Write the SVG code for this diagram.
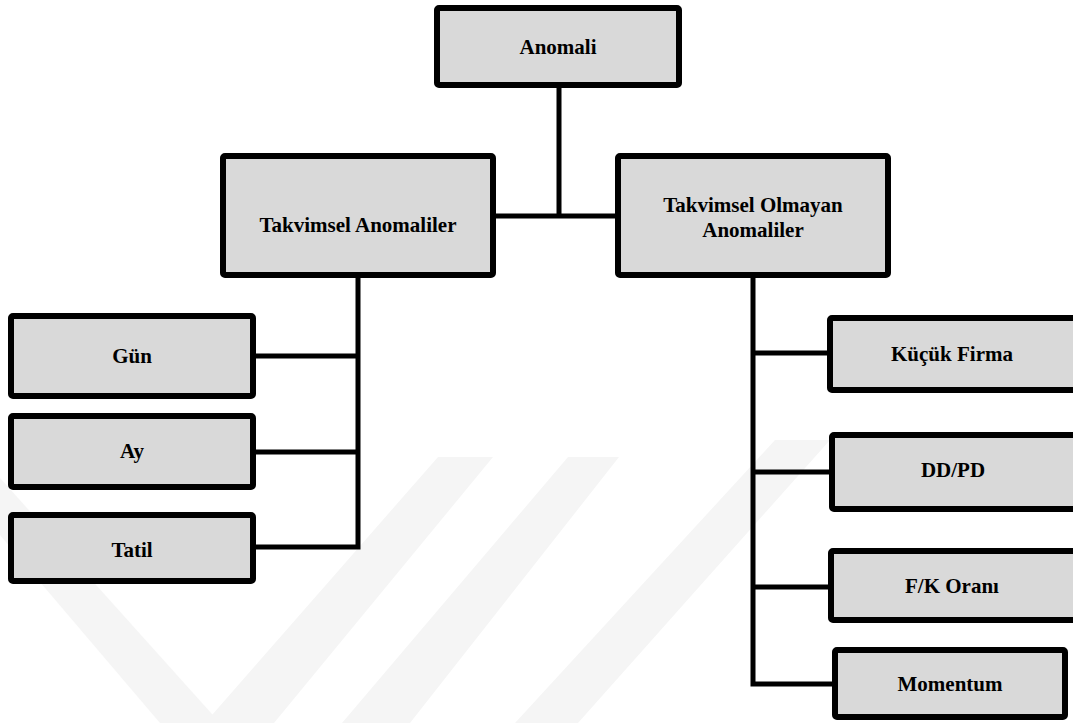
<svg xmlns="http://www.w3.org/2000/svg" width="1073" height="723" viewBox="0 0 1073 723">
<style>
.box{fill:#d9d9d9;stroke:#000;stroke-width:6;stroke-linejoin:round}
.lbl{font-family:"Liberation Serif","Times New Roman",serif;font-weight:bold;font-size:21px;fill:#000;text-anchor:middle}
.con{stroke:#000;stroke-width:5;fill:none;stroke-linecap:square}
.wm{fill:#f5f5f5}
</style>
<rect width="1073" height="723" fill="#fff"/>
<g id="watermark">
<polygon class="wm" points="438,457 493,457 274,723 205,723"/>
<polygon class="wm" points="568,457 619,457 410,723 342,723"/>
<polygon class="wm" points="775,440 830,440 578,723 515,723"/>
<polygon class="wm" points="0,478 0,535 160,723 220,723"/>
</g>
<g id="connectors">
<path class="con" d="M559 88 V216 M496 216 H615"/>
<path class="con" d="M358 278 V547 M256 356 H358 M256 452 H358 M256 547 H358"/>
<path class="con" d="M753 278 V684 M753 353 H828 M753 472 H828 M753 587 H828 M753 684 H830"/>
</g>
<g id="anomali"><rect class="box" x="437" y="8" width="242" height="77" rx="2"/><text class="lbl" x="558" y="54">Anomali</text></g>
<g id="takvimsel"><rect class="box" x="223" y="156" width="270" height="119" rx="2"/><text class="lbl" x="358" y="232">Takvimsel Anomaliler</text></g>
<g id="takvimsel-olmayan"><rect class="box" x="618" y="156" width="270" height="119" rx="2"/><text class="lbl" x="753" y="212">Takvimsel Olmayan</text><text class="lbl" x="753" y="237">Anomaliler</text></g>
<g id="gun"><rect class="box" x="11" y="316" width="242" height="80" rx="2"/><text class="lbl" x="132" y="363">Gün</text></g>
<g id="ay"><rect class="box" x="11" y="416" width="242" height="71" rx="2"/><text class="lbl" x="132" y="458">Ay</text></g>
<g id="tatil"><rect class="box" x="11" y="515" width="242" height="66" rx="2"/><text class="lbl" x="132" y="557">Tatil</text></g>
<g id="kucuk-firma"><rect class="box" x="830" y="318" width="246" height="72" rx="2"/><text class="lbl" x="952" y="361">Küçük Firma</text></g>
<g id="dd-pd"><rect class="box" x="832" y="435" width="244" height="74" rx="2"/><text class="lbl" x="953" y="477">DD/PD</text></g>
<g id="fk-orani"><rect class="box" x="831" y="551" width="245" height="69" rx="2"/><text class="lbl" x="952" y="593">F/K Oranı</text></g>
<g id="momentum"><rect class="box" x="835" y="650" width="230" height="67" rx="2"/><text class="lbl" x="950" y="691">Momentum</text></g>
</svg>
